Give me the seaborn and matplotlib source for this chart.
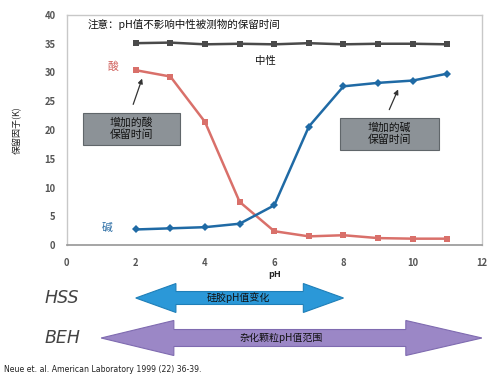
import matplotlib
matplotlib.use("Agg")
import matplotlib.pyplot as plt
import seaborn as sns
import pandas as pd
from matplotlib.patches import Polygon, Rectangle

# ---- data ----
ph = [2, 3, 4, 5, 6, 7, 8, 9, 10, 11]
neutral = [35.1, 35.2, 34.9, 35.0, 34.9, 35.1, 34.9, 35.0, 35.0, 34.9]
acid = [30.4, 29.3, 21.4, 7.5, 2.4, 1.5, 1.7, 1.2, 1.1, 1.1]
base = [2.7, 2.9, 3.1, 3.7, 6.9, 20.6, 27.6, 28.2, 28.6, 29.8]
series_names = ["中性", "酸", "碱"]
x_ticks = [0, 2, 4, 6, 8, 10, 12]
y_ticks = [0, 5, 10, 15, 20, 25, 30, 35, 40]
hss_range = [2, 8]
beh_range = [1, 12]

sns.set_theme(style="white")
plt.rcParams['font.family'] = ['Noto Sans CJK SC', 'DejaVu Sans']

df = pd.DataFrame({
    "pH": ph * 3,
    "k": neutral + acid + base,
    "series": [series_names[0]] * len(ph) + [series_names[1]] * len(ph) + [series_names[2]] * len(ph),
})

c_neu, c_acid, c_base = "#4a4a4a", "#d9706a", "#1f6aa5"

fig = plt.figure(figsize=(4.97, 3.86), dpi=100)
ax = fig.add_axes([66.5 / 497, 1 - 245 / 386, (482 - 66.5) / 497, (245 - 15) / 386])

sns.lineplot(data=df, x="pH", y="k", hue="series", style="series",
             palette={"中性": c_neu, "酸": c_acid, "碱": c_base},
             markers={"中性": "s", "酸": "s", "碱": "D"},
             dashes=False, linewidth=1.8, markersize=5, markeredgewidth=0,
             legend=False, ax=ax)
for ln in ax.lines:
    if ln.get_marker() == "D":
        ln.set_markersize(3.8)

ax.set_xlim(0, 12)
ax.set_ylim(0, 40)
ax.set_xticks(x_ticks)
ax.set_yticks(y_ticks)
ax.tick_params(axis="both", labelsize=6.8, colors="#555555", length=0)
ax.tick_params(axis="y", pad=8)
ax.tick_params(axis="x", length=3, color="#999999", direction="out", pad=6)
for lab in ax.get_xticklabels() + ax.get_yticklabels():
    lab.set_fontweight("bold")
for s in ["top", "right", "left"]:
    ax.spines[s].set_color("#c8c8c8")
    ax.spines[s].set_linewidth(1.0)
ax.spines["bottom"].set_color("#9a9a9a")
ax.set_xlabel("pH", fontsize=6.5, fontweight="bold", labelpad=2, color="#222222")
ax.set_ylabel("保留因子(K)", fontsize=6.5, labelpad=16, color="#222222")

# annotations
ax.text(0.62, 38.4, "注意：pH值不影响中性被测物的保留时间", fontsize=7.6, va="center", ha="left", color="#111111")
ax.text(1.34, 31.0, "酸", fontsize=7.8, color="#d0605c", ha="center", va="center")
ax.text(5.74, 32.0, "中性", fontsize=7.5, color="#111111", ha="center", va="center")
ax.text(1.17, 3.0, "碱", fontsize=7.8, color="#2c6ea5", ha="center", va="center")

for (x0, x1, y0, y1, txt) in [(0.48, 3.28, 17.4, 23.0, "增加的酸\n保留时间"),
                               (7.90, 10.76, 16.5, 22.1, "增加的碱\n保留时间")]:
    ax.add_patch(Rectangle((x0, y0), x1 - x0, y1 - y0, facecolor="#8c9297",
                           edgecolor="#60666a", linewidth=0.8, zorder=4))
    ax.text((x0 + x1) / 2, (y0 + y1) / 2, txt, fontsize=7.8, ha="center", va="center",
            color="#111111", linespacing=1.15, zorder=5)

ax.annotate("", xy=(2.21, 29.4), xytext=(1.9, 24.0),
            arrowprops=dict(arrowstyle="-|>", color="#333333", lw=0.9, mutation_scale=7))
ax.annotate("", xy=(9.61, 27.5), xytext=(9.29, 23.1),
            arrowprops=dict(arrowstyle="-|>", color="#333333", lw=0.9, mutation_scale=7))

# bottom arrows panel
bx = fig.add_axes([66.5 / 497, 1 - 360 / 386, (482 - 66.5) / 497, 80 / 386])
bx.set_xlim(0, 12)
bx.set_ylim(0, 1)
bx.axis("off")


def double_arrow(a, b, yc, hh, sh, head_l, head_r, fc, ec):
    pts = [(a, yc), (a + head_l, yc + hh), (a + head_l, yc + sh), (b - head_r, yc + sh),
           (b - head_r, yc + hh), (b, yc), (b - head_r, yc - hh), (b - head_r, yc - sh),
           (a + head_l, yc - sh), (a + head_l, yc - hh)]
    bx.add_patch(Polygon(pts, closed=True, facecolor=fc, edgecolor=ec, linewidth=0.8))


double_arrow(hss_range[0], hss_range[1], 0.775, 0.181, 0.081, 1.16, 1.16, "#2b98d8", "#1f7fb8")
double_arrow(beh_range[0], beh_range[1], 0.275, 0.219, 0.106, 2.1, 2.2, "#9b87c6", "#7f6bb0")
bx.text((hss_range[0] + hss_range[1]) / 2 - 0.05, 0.775, "硅胶pH值变化", fontsize=7.2, ha="center", va="center", color="#111111")
bx.text(6.2, 0.275, "杂化颗粒pH值范围", fontsize=7.2, ha="center", va="center", color="#111111")

fig.text(45 / 497, 1 - 298 / 386, "HSS", fontsize=12.5, style="italic", color="#444444", ha="left", va="center",
         family="DejaVu Sans")
fig.text(45 / 497, 1 - 338 / 386, "BEH", fontsize=12.5, style="italic", color="#444444", ha="left", va="center",
         family="DejaVu Sans")
fig.text(4 / 497, 1 - 370 / 386, "Neue et. al. American Laboratory 1999 (22) 36-39.", fontsize=5.6,
         color="#222222", ha="left", va="center", family="DejaVu Sans")

fig.savefig("out.png", dpi=100, facecolor="white")
